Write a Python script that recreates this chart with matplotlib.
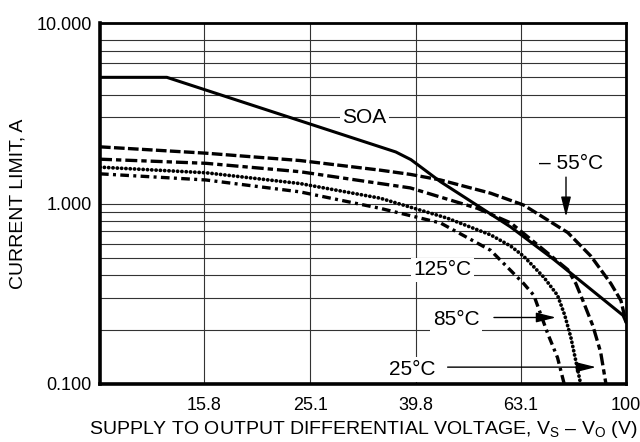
import numpy as np
from matplotlib import pyplot as plt
from matplotlib.ticker import FixedLocator, NullFormatter

plt.rcParams['font.family'] = ['Liberation Sans', 'DejaVu Sans']
plt.rcParams['mathtext.fontset'] = 'custom'
plt.rcParams['mathtext.rm'] = 'Liberation Sans'

# safe operating area boundary
soa_v = [10, 13.4, 36.5, 39.0, 44.4, 60.4, 72.9, 98.7, 100]
soa_i = [5.0, 5.0, 1.93, 1.75, 1.32, 0.74, 0.49, 0.24, 0.22]

# current limit vs temperature
m55_v = [10, 15.9, 24.0, 34.1, 38.9, 44.4, 55.3, 63.9, 77.5, 85.8, 93.6, 97.8, 100]
m55_i = [2.06, 1.90, 1.73, 1.53, 1.45, 1.35, 1.14, 0.98, 0.69, 0.51, 0.36, 0.29, 0.22]

t25_v = [10, 15.9, 24.0, 34.1, 38.9, 52.2, 60.4, 68.9, 77.5, 80.3, 82.8, 86.5, 89.5, 91.6]
t25_i = [1.76, 1.67, 1.50, 1.29, 1.22, 0.94, 0.78, 0.57, 0.43, 0.36, 0.29, 0.21, 0.15, 0.10]

t85_v = [10, 15.9, 24.0, 34.1, 45.7, 55.3, 60.4, 63.9, 69.8, 74.1, 76.5, 78.6, 82.0]
t85_i = [1.59, 1.48, 1.29, 1.07, 0.83, 0.67, 0.58, 0.51, 0.39, 0.31, 0.24, 0.18, 0.10]

t125_v = [10, 15.9, 24.0, 34.1, 44.4, 55.3, 63.9, 66.8, 71.0, 74.1, 76.3]
t125_i = [1.46, 1.35, 1.16, 0.94, 0.78, 0.55, 0.36, 0.31, 0.19, 0.14, 0.10]

x_ticks = [15.8, 25.1, 39.8, 63.1, 100]
x_labels = ["15.8", "25.1", "39.8", "63.1", "100"]
y_ticks = [0.1, 1, 10]
y_labels = ["0.100", "1.000", "10.000"]
y_grid = [0.2, 0.3, 0.4, 0.5, 0.6, 0.7, 0.8, 0.9, 3, 4, 5, 6, 7, 8]

fig = plt.figure(figsize=(6.4, 4.42), dpi=100)
ax = fig.add_axes([100/640, 1-384/442, 526/640, 361/442])
ax.set_xscale('log')
ax.set_yscale('log')
ax.set_xlim(10, 100)
ax.set_ylim(0.1, 10)

ax.set_xticks(x_ticks)
ax.set_xticklabels(x_labels)
ax.xaxis.set_minor_locator(FixedLocator([]))
ax.xaxis.set_minor_formatter(NullFormatter())
ax.set_yticks(y_ticks)
ax.set_yticklabels(y_labels)
ax.yaxis.set_minor_locator(FixedLocator(y_grid))
ax.yaxis.set_minor_formatter(NullFormatter())
ax.tick_params(which='both', length=0, labelsize=13)
ax.tick_params(axis='y', pad=6)
ax.tick_params(axis='x', pad=9)
ax.grid(True, which='both', color='#333333', lw=0.8)

for s in ax.spines.values():
    s.set_linewidth(2.0)
ax.spines['left'].set_linewidth(2.6)
ax.spines['bottom'].set_linewidth(2.6)

ax.plot(soa_v, soa_i, color='black', lw=2.2, solid_joinstyle='round')
ax.plot(m55_v, m55_i, color='black', lw=2.4, linestyle=(0, (3.2, 1.0)))
ax.plot(t25_v, t25_i, color='black', lw=2.4, linestyle=(0, (3.6, 1.2, 1.6, 1.2)))
ax.plot(t85_v, t85_i, color='black', lw=2.7, linestyle=(0, (0.05, 1.1)),
        dash_capstyle='round')
ax.plot(t125_v, t125_i, color='black', lw=2.4, linestyle=(0, (2.6, 1.3, 0.9, 1.3)))

box = dict(facecolor='white', edgecolor='none', pad=2)
arrow = dict(arrowstyle='-|>,head_length=0.8,head_width=0.2', color='black',
             lw=1.0, mutation_scale=15, shrinkA=0, shrinkB=0)

ax.text(31.8, 3.0, "SOA", fontsize=15, ha='center', va='center', bbox=box)
ax.text(78.5, 1.66, "– 55°C", fontsize=15, ha='center', va='center')
ax.annotate('', xy=(76.9, 0.845), xytext=(76.9, 1.40), arrowprops=arrow)
ax.text(44.8, 0.4, "125°C", fontsize=15, ha='center', va='baseline', bbox=box)
ax.text(47.6, 0.212, "85°C", fontsize=15, ha='center', va='baseline', bbox=box)
ax.annotate('', xy=(73.6, 0.2336), xytext=(56.1, 0.2336), arrowprops=arrow)
ax.text(39.3, 0.112, "25°C", fontsize=15, ha='center', va='baseline', bbox=box)
ax.annotate('', xy=(87.7, 0.124), xytext=(45.8, 0.124), arrowprops=arrow)

ax.set_ylabel("CURRENT LIMIT, A", fontsize=14, labelpad=7)
ax.set_xlabel(r"SUPPLY TO OUTPUT DIFFERENTIAL VOLTAGE, V$_\mathregular{S}$ – V$_\mathregular{O}$ (V)",
              fontsize=14, labelpad=4)

plt.savefig("out.png", dpi=100)
